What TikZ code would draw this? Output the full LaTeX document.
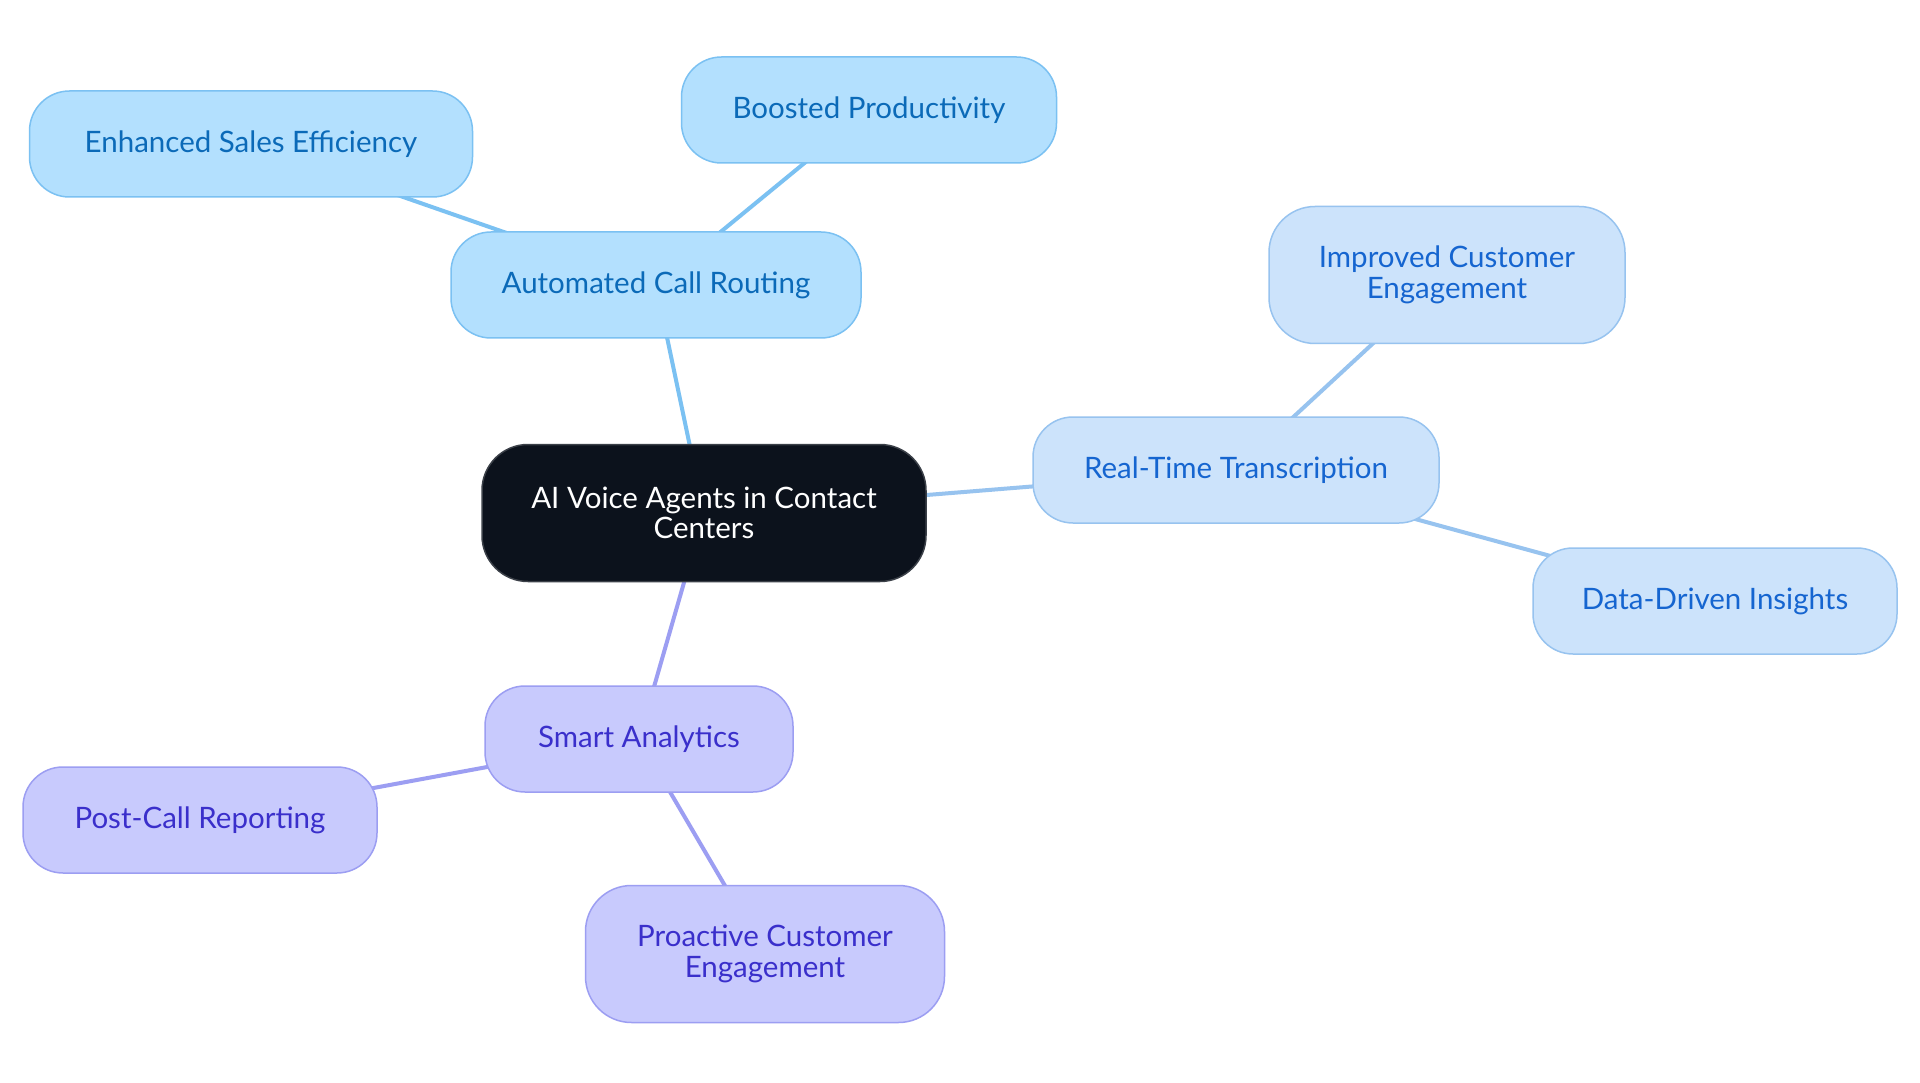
\documentclass[tikz,border=0pt]{standalone}
\usepackage{fontspec}
\setmainfont{Lato}
\usetikzlibrary{backgrounds}
\definecolor{bfill}{HTML}{B3E0FE}
\definecolor{bdraw}{HTML}{7BC1F2}
\definecolor{btext}{HTML}{0B6AB8}
\definecolor{rfill}{HTML}{CCE3FB}
\definecolor{rdraw}{HTML}{97C3EF}
\definecolor{rtext}{HTML}{1565D0}
\definecolor{pfill}{HTML}{C8CAFD}
\definecolor{pdraw}{HTML}{9C9EF2}
\definecolor{ptext}{HTML}{3A2FCB}
\definecolor{cfill}{HTML}{0C121C}
\definecolor{cdraw}{HTML}{3B4048}
\begin{document}
\begin{tikzpicture}[x=1pt,y=-1pt,
  box/.style={draw, line width=1.5pt, rounded corners=40pt, minimum height=106pt,
    inner sep=0pt, align=center, font=\fontsize{29.5}{30.5}\selectfont},
  tall/.style={minimum height=137pt, rounded corners=46pt},
  bluebox/.style={box, fill=bfill, draw=bdraw, text=btext},
  rtbox/.style={box, fill=rfill, draw=rdraw, text=rtext},
  purbox/.style={box, fill=pfill, draw=pdraw, text=ptext},
  centerbox/.style={box, tall, fill=cfill, draw=cdraw, text=white},
  link/.style={line width=4pt}
]
\useasboundingbox (0,0) rectangle (1920,1083);

\node[centerbox, minimum width=444pt] (c) at (704,513) {AI Voice Agents in Contact\\Centers};

\node[bluebox, minimum width=410pt] (acr) at (656,285) {Automated Call Routing};
\node[bluebox, minimum width=443pt] (ese) at (251,144) {Enhanced Sales Efficiency};
\node[bluebox, minimum width=375pt] (bp) at (869,110) {Boosted Productivity};

\node[rtbox, minimum width=406pt] (rtt) at (1236,470) {Real-Time Transcription};
\node[rtbox, tall, minimum width=356pt] (ice) at (1447,275) {Improved Customer\\Engagement};
\node[rtbox, minimum width=364pt] (ddi) at (1715,601) {Data-Driven Insights};

\node[purbox, minimum width=308pt] (sa) at (639,739) {Smart Analytics};
\node[purbox, minimum width=354pt] (pcr) at (200,820) {Post-Call Reporting};
\node[purbox, tall, minimum width=359pt] (pce) at (765,954) {Proactive Customer\\Engagement};

\begin{scope}[on background layer]
\fill[white] (0,0) rectangle (1920,1083);
\draw[link, draw=bdraw] (c.center) -- (acr.center);
\draw[link, draw=bdraw] (acr.center) -- (ese.center);
\draw[link, draw=bdraw] (acr.center) -- (bp.center);
\draw[link, draw=rdraw] (c.center) -- (rtt.center);
\draw[link, draw=rdraw] (rtt.center) -- (ice.center);
\draw[link, draw=rdraw] (rtt.center) -- (ddi.center);
\draw[link, draw=pdraw] (c.center) -- (sa.center);
\draw[link, draw=pdraw] (sa.center) -- (pcr.center);
\draw[link, draw=pdraw] (sa.center) -- (pce.center);
\end{scope}
\end{tikzpicture}
\end{document}
